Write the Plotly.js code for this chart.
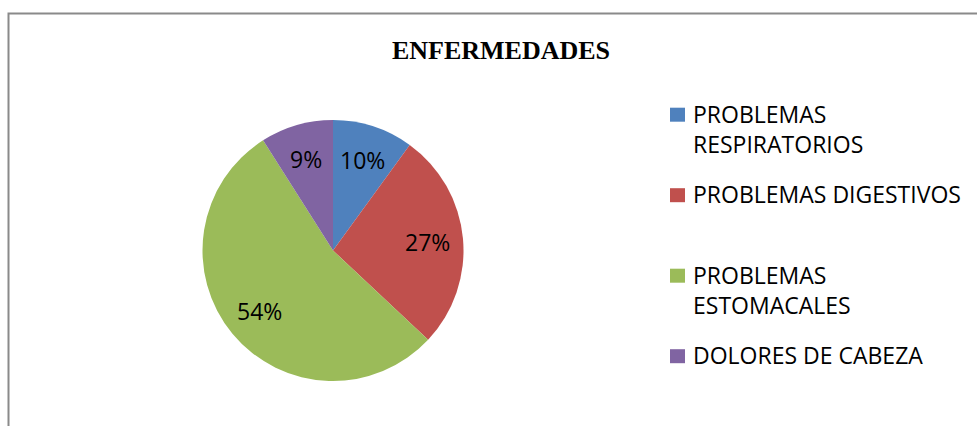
<!DOCTYPE html>
<html>
<head>
<meta charset="utf-8">
<script src="https://cdn.plot.ly/plotly-3.0.1.min.js"></script>
<style>
  html, body { margin: 0; padding: 0; background: #ffffff; }
  #chart { width: 977px; height: 426px; }
</style>
</head>
<body>
<div id="chart"></div>
<script>
// ---- data ----
const chartTitle = 'ENFERMEDADES';
const categories = ['PROBLEMAS RESPIRATORIOS', 'PROBLEMAS DIGESTIVOS', 'PROBLEMAS ESTOMACALES', 'DOLORES DE CABEZA'];
const values = [10, 27, 54, 9];
const legendLines = [['PROBLEMAS', 'RESPIRATORIOS'], ['PROBLEMAS DIGESTIVOS'], ['PROBLEMAS', 'ESTOMACALES'], ['DOLORES DE CABEZA']];
const colors = ['#4F81BD', '#C0504D', '#9BBB59', '#8064A2'];

// ---- layout geometry (pixels) ----
const W = 977, H = 426;
const cx = 333, cy = 250.5, R = 130.5;
const px = x => x / W;
const py = y => 1 - y / H;
const labelFont = { family: '"Open Sans", sans-serif', size: 23, color: '#000000' };

const annotations = [];
const shapes = [];

// percentage labels along each slice's mid-angle
const total = values.reduce((a, b) => a + b, 0);
let cum = 0;
values.forEach((v, i) => {
  const mid = (cum + v / 2) / total * 2 * Math.PI;
  cum += v;
  const r = R * 0.73;
  annotations.push({
    xref: 'paper', yref: 'paper',
    x: px(cx + r * Math.sin(mid)), y: py(cy - r * Math.cos(mid)),
    xanchor: 'center', yanchor: 'middle',
    text: Math.round(v / total * 100) + '%',
    showarrow: false, font: labelFont
  });
});

// legend (drawn manually to match spacing)
const legTop = 113.7, legStep = 80.5, lineStep = 30.5;
legendLines.forEach((lines, i) => {
  const y0 = legTop + i * legStep;
  shapes.push({
    type: 'rect', xref: 'paper', yref: 'paper',
    x0: px(670), x1: px(685), y0: py(y0 + 8), y1: py(y0 - 6),
    fillcolor: colors[i], line: { width: 0 }
  });
  lines.forEach((t, j) => {
    annotations.push({
      xref: 'paper', yref: 'paper',
      x: px(691), y: py(y0 + j * lineStep),
      xanchor: 'left', yanchor: 'middle',
      text: t, showarrow: false, font: labelFont
    });
  });
});

// chart-area border (left and top visible)
shapes.push({
  type: 'rect', xref: 'paper', yref: 'paper',
  x0: px(8.5), x1: px(990), y0: py(440), y1: py(13.5),
  line: { color: '#8A8A8A', width: 2 }, fillcolor: 'rgba(0,0,0,0)'
});

const data = [{
  type: 'pie',
  labels: categories,
  values: values,
  sort: false,
  direction: 'clockwise',
  rotation: 0,
  marker: { colors: colors, line: { width: 0 } },
  textinfo: 'none',
  hoverinfo: 'label+percent',
  showlegend: false,
  domain: { x: [px(cx - R), px(cx + R)], y: [py(cy + R), py(cy - R)] }
}];

const layout = {
  width: W, height: H,
  margin: { l: 0, r: 0, t: 0, b: 0 },
  paper_bgcolor: '#ffffff',
  plot_bgcolor: '#ffffff',
  showlegend: false,
  title: {
    text: '<b>' + chartTitle + '</b>',
    xref: 'container', yref: 'container',
    x: px(501), y: py(49.5),
    xanchor: 'center', yanchor: 'middle',
    font: { family: '"Liberation Serif", "Times New Roman", serif', size: 26, color: '#000000' }
  },
  annotations: annotations,
  shapes: shapes
};

Plotly.newPlot('chart', data, layout, { displayModeBar: false, staticPlot: true });
</script>
</body>
</html>
